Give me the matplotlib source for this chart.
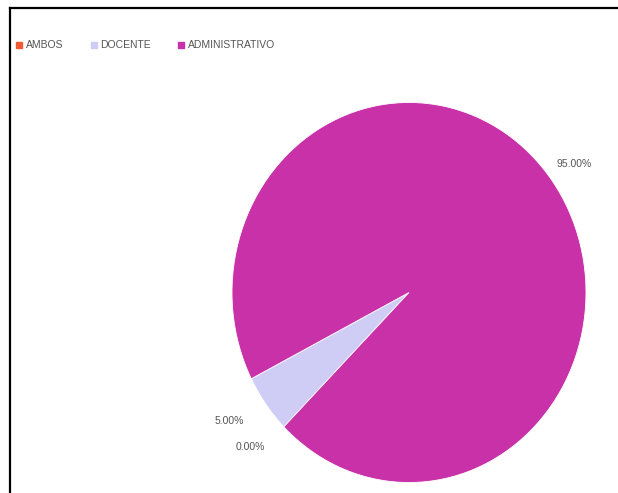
import matplotlib
matplotlib.use("Agg")
import matplotlib.pyplot as plt
from matplotlib.lines import Line2D

categories = ["AMBOS", "DOCENTE", "ADMINISTRATIVO"]
values = [0.0, 5.0, 95.0]
colors = ["#f05a32", "#cfcdf6", "#c931a9"]

plt.rcParams['font.family'] = ['Liberation Sans', 'DejaVu Sans']

W, H = 618, 493
fig = plt.figure(figsize=(W / 100, H / 100), dpi=100)
fig.patch.set_facecolor("white")

# pie area (slightly elliptical as in the reference)
cx, cy, rx, ry = 409, 292.5, 177, 190
ax = fig.add_axes([(cx - rx) / W, (H - cy - ry) / H, 2 * rx / W, 2 * ry / H])
wedges, texts, autotexts = ax.pie(
    values, colors=colors, startangle=225, counterclock=False,
    autopct=lambda p: f"{p:.2f}%", pctdistance=1.15,
    wedgeprops=dict(linewidth=0.6, edgecolor="white"),
    textprops=dict(fontsize=7.5, color="#555555"),
)
ax.set_aspect("auto")
ax.set_xlim(-1, 1)
ax.set_ylim(-1, 1)
ax.axis("off")
for t in autotexts:
    x, y = t.get_position()
    if x < -0.2:
        t.set_ha("right")
    t.set_clip_on(False)

# legend
handles = [Line2D([0], [0], marker="s", linestyle="", markersize=4.5,
                  markerfacecolor=c, markeredgecolor=c) for c in colors]
fig.legend(handles, categories, loc="upper left", bbox_to_anchor=(12 / W, 1 - 36 / H),
           ncol=3, frameon=False, fontsize=7.5, labelcolor="#555555",
           handlelength=0.6, handletextpad=0.35, columnspacing=2.6, borderaxespad=0)

# frame lines (top and left)
fig.add_artist(Line2D([10 / W, 1.0], [1 - 8 / H, 1 - 8 / H], color="black", linewidth=1.6,
                      transform=fig.transFigure))
fig.add_artist(Line2D([10 / W, 10 / W], [0, 1 - 8 / H], color="black", linewidth=1.6,
                      transform=fig.transFigure))

fig.savefig("out.png", dpi=100, facecolor="white")
